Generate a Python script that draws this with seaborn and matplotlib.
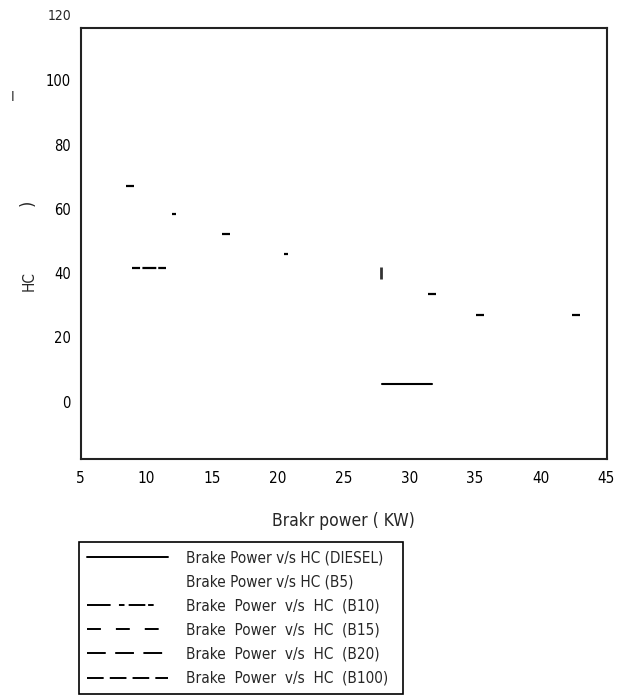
import matplotlib
matplotlib.use("Agg")
import matplotlib.pyplot as plt
import seaborn as sns
from matplotlib.lines import Line2D

# ---------------- data ----------------
diesel_x = [27.90, 31.73]
diesel_y = [5.35, 5.35]
b10_x = [8.88, 11.49]
b10_y = [41.5, 41.5]
dash_x = [8.75, 16.05, 31.70, 35.38, 42.68]
dash_y = [67.1, 52.1, 33.4, 27.1, 27.1]
dot_x = [12.10, 20.62]
dot_y = [58.4, 45.8]
bar_x = [27.85]
bar_y = [39.9]

x_ticks = [5, 10, 15, 20, 25, 30, 35, 40, 45]
y_ticks = [0, 20, 40, 60, 80, 100]
y_top_label = 120
legend_labels = [
    "Brake Power v/s HC (DIESEL)",
    "Brake Power v/s HC (B5)",
    "Brake  Power  v/s  HC  (B10)",
    "Brake  Power  v/s  HC  (B15)",
    "Brake  Power  v/s  HC  (B20)",
    "Brake  Power  v/s  HC  (B100)",
]

# ---------------- style ----------------
sns.set_style("white")
plt.rcParams["font.family"] = ["DejaVu Sans"]
plt.rcParams["font.stretch"] = "condensed"
plt.rcParams["lines.scale_dashes"] = False

fig = plt.figure(figsize=(6.31, 6.96), dpi=100)
ax = fig.add_axes([0.1279, 0.3409, 0.8333, 0.6184])

# ---------------- marks ----------------
sns.lineplot(x=diesel_x, y=diesel_y, color="black", linewidth=1.5, ax=ax)
sns.lineplot(x=b10_x, y=b10_y, color="black", linewidth=1.6,
             linestyle=(0, (5.8, 1.7, 10, 1.4, 5.8, 40)), ax=ax)
sns.scatterplot(x=dash_x, y=dash_y, marker="_", s=34, color="black", linewidth=1.6, ax=ax)
sns.scatterplot(x=dot_x, y=dot_y, marker="_", s=9, color="black", linewidth=1.6, ax=ax)
sns.scatterplot(x=bar_x, y=bar_y, marker="|", s=64, color="#333333", linewidth=2.0, ax=ax)

# ---------------- axes ----------------
ax.set_xlim(5, 45)
ax.set_ylim(-17.8, 116.2)
ax.set_xticks(x_ticks)
ax.set_xticklabels([str(v) for v in x_ticks])
ax.set_yticks(y_ticks)
ax.set_yticklabels([str(v) for v in y_ticks])
ax.tick_params(axis="x", length=0, pad=9, labelsize=11, colors="black")
ax.tick_params(axis="y", length=0, pad=7, labelsize=10.5, colors="black")
ax.text(-0.017, y_top_label, str(y_top_label), transform=ax.get_yaxis_transform(),
        ha="right", va="center", fontsize=10, clip_on=False)
for s in ax.spines.values():
    s.set_visible(True)
    s.set_color("#222222")
    s.set_linewidth(1.5)
ax.grid(False)

ax.set_xlabel("Brakr power ( KW)", fontsize=12.5, va="center")
ax.xaxis.set_label_coords(0.5, -0.145)
ax.set_ylabel("HC", fontsize=11, va="center", ha="center")
ax.yaxis.set_label_coords(-0.098, 0.413)

# garbled fragments of the original axis title
fig.text(13 / 631, 1 - 97 / 696, "I", fontsize=10, ha="center", va="center")
fig.text(28 / 631, 1 - 203 / 696, ")", fontsize=13, rotation=90, ha="center", va="center")

# ---------------- legend ----------------
handles = [
    Line2D([], [], color="black", linewidth=1.4, linestyle="-"),
    Line2D([], [], color="black", linewidth=1.4, linestyle="None"),
    Line2D([], [], color="black", linewidth=1.4,
           linestyle=(0, (17, 6, 4, 3, 12, 2, 4, 30))),
    Line2D([], [], color="black", linewidth=1.4, linestyle=(0, (10, 10.8))),
    Line2D([], [], color="black", linewidth=1.4, linestyle=(0, (13.5, 6.8))),
    Line2D([], [], color="black", linewidth=1.4, linestyle=(0, (12, 4.4))),
]
leg = fig.legend(handles, legend_labels, loc="upper left",
                 bbox_to_anchor=(78.7 / 631, 1 - 541.7 / 696, (403 - 78.7) / 631, 0),
                 mode="expand", borderaxespad=0, borderpad=0.55,
                 handlelength=5.3, handletextpad=1.15, labelspacing=0.6,
                 fontsize=11, fancybox=False, framealpha=1, edgecolor="black")
leg.get_frame().set_linewidth(1.2)

fig.savefig("out.png", dpi=100)
